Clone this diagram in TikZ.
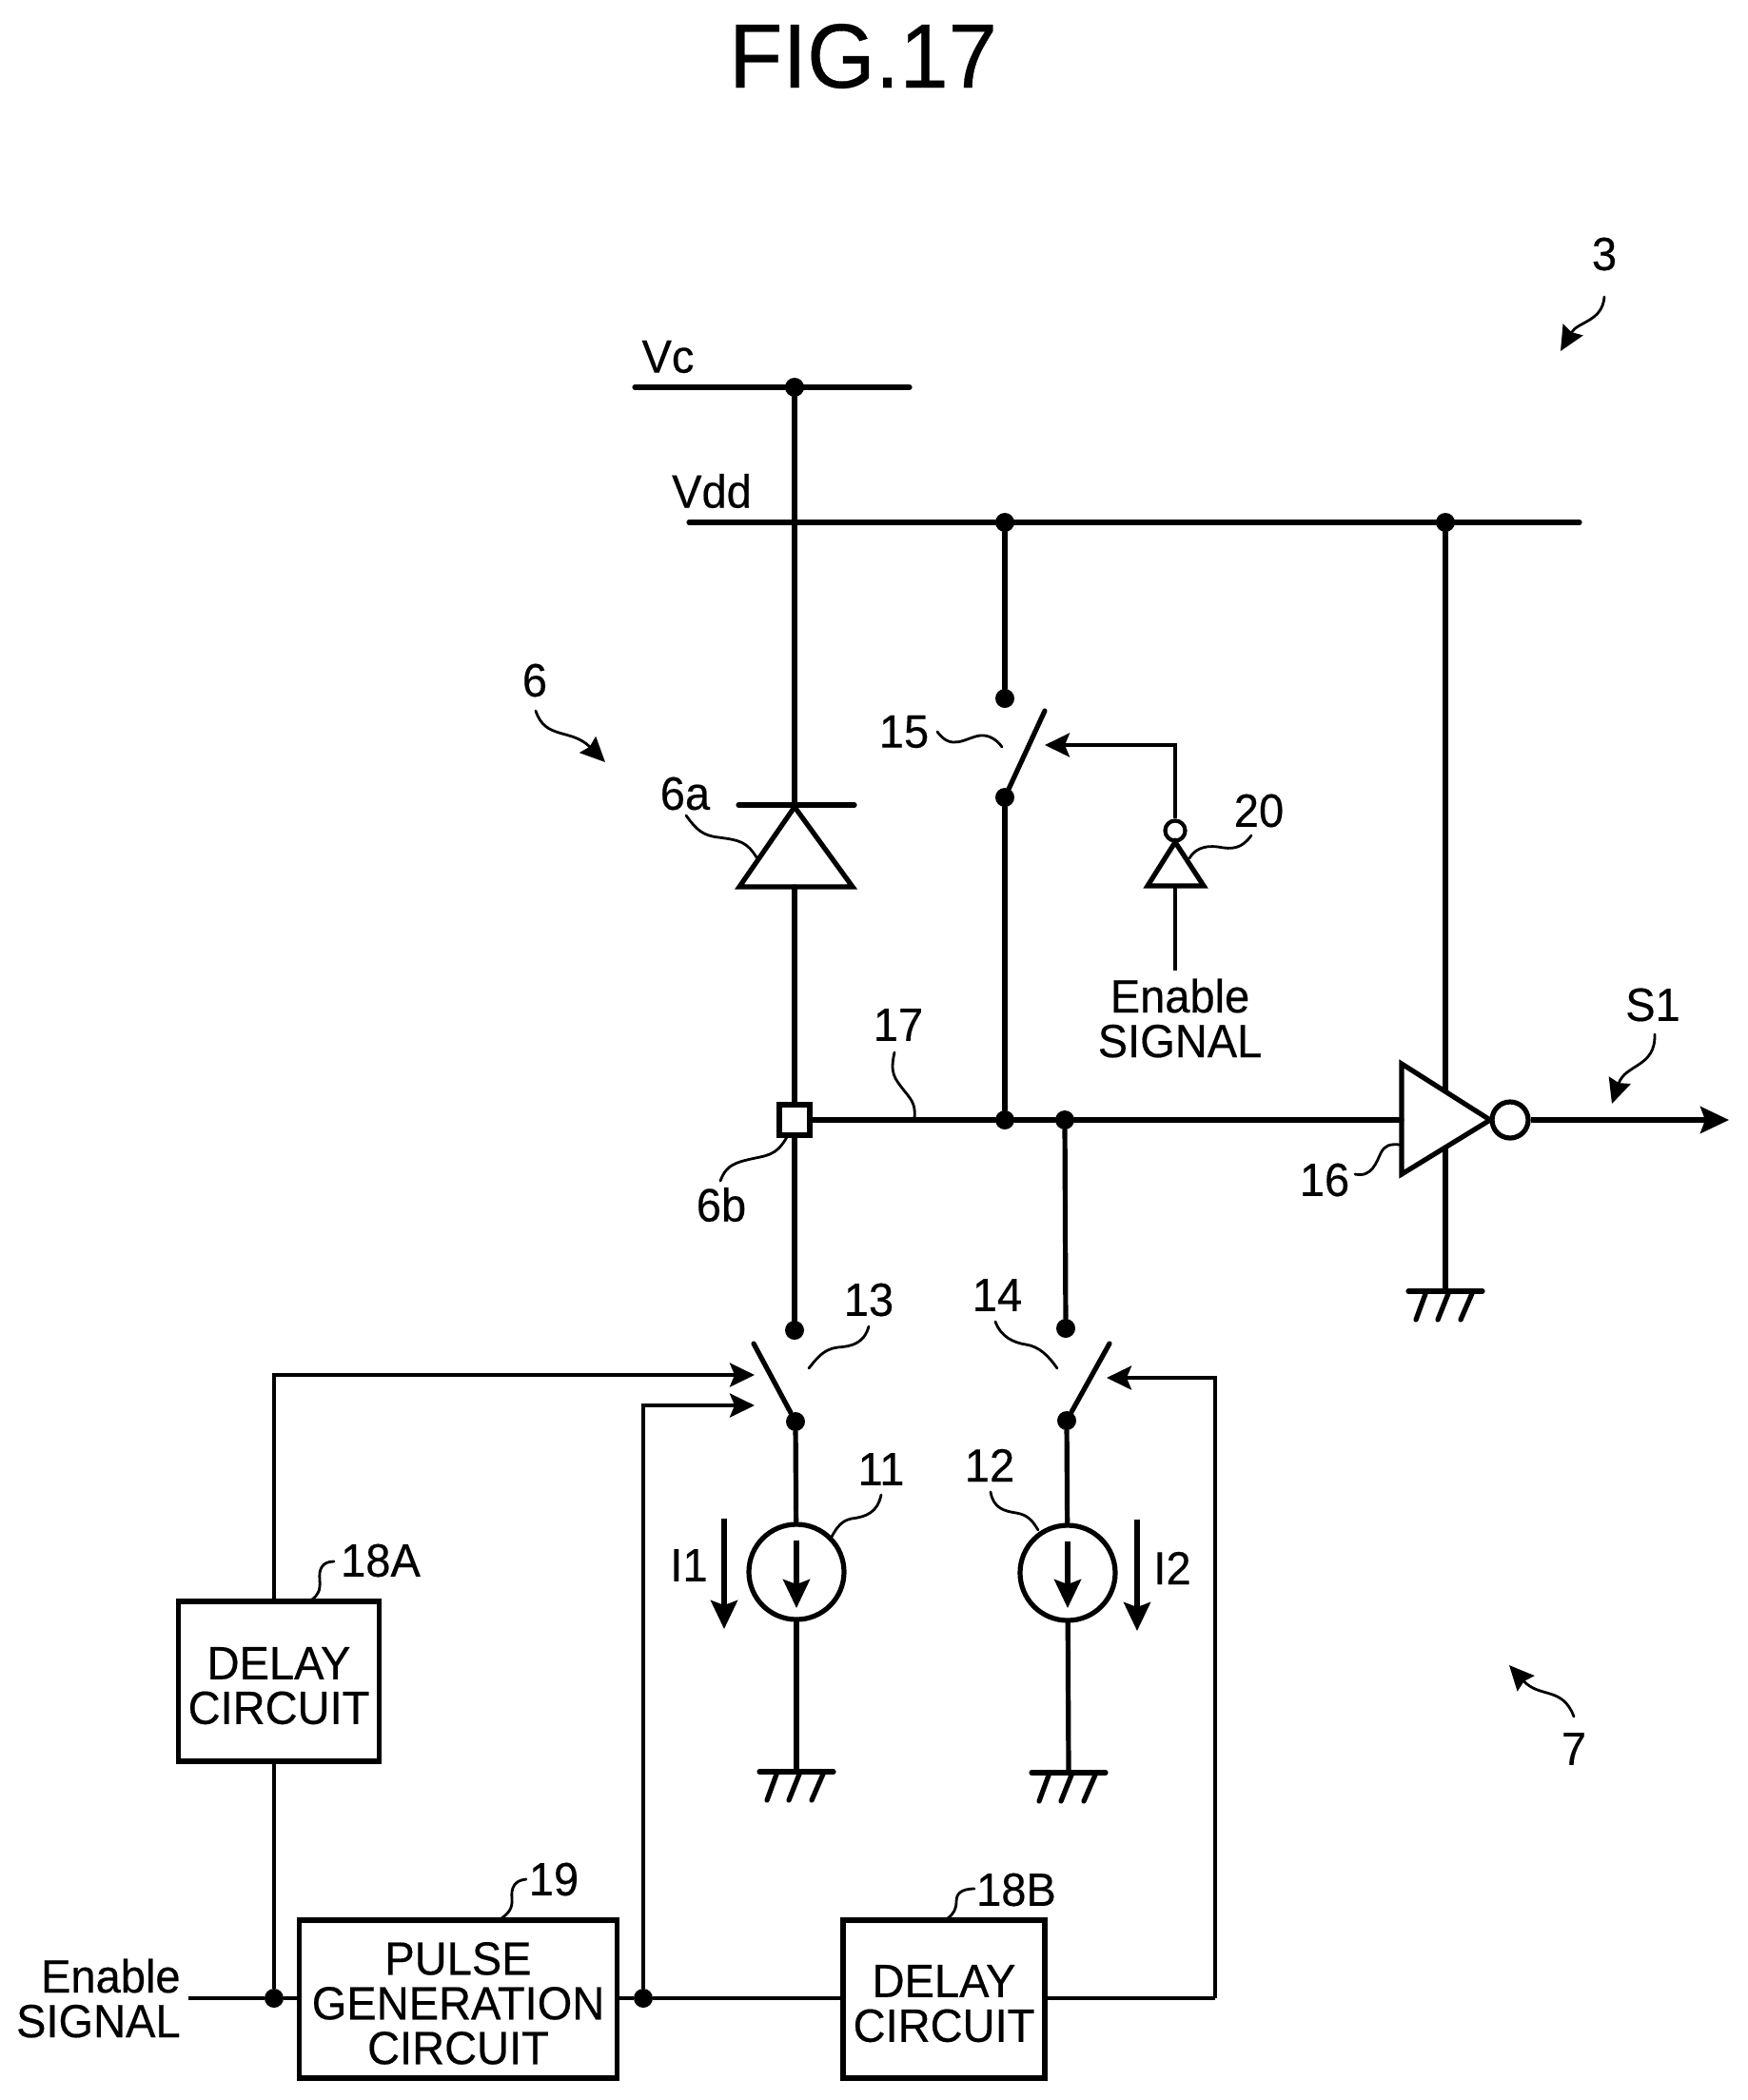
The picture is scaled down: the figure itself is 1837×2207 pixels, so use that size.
\documentclass[tikz,border=0pt]{standalone}
\usepackage{fontspec}
\setmainfont{Liberation Sans}[FakeBold=0.35,FakeStretch=0.96]
\usetikzlibrary{arrows.meta}
\newcommand{\capstrut}{\rule{0pt}{21.5pt}}
\tikzset{
  x=0.5pt,y=-0.5pt,
  wire/.style={line width=2.6pt,line cap=round,line join=round},
  thinwire/.style={line width=2.1pt,line join=miter},
  leader/.style={line width=1.4pt,line cap=round},
  head/.style={-{Stealth[length=13pt,width=12.5pt,inset=2.5pt]}},
  bighead/.style={-{Stealth[length=15pt,width=14pt,inset=2.5pt]}},
  pointer/.style={leader,-{Stealth[length=13pt,width=12pt,inset=1.5pt]}},
  dotn/.style={circle,fill=black,inner sep=0pt,minimum size=10pt},
  lab/.style={inner sep=0pt,font=\fontsize{24.5}{23.5}\selectfont,align=center},
  boxn/.style={draw,line width=2.6pt,inner sep=0pt,font=\fontsize{24.5}{23.5}\selectfont,align=center},
  gndsym/.pic={
    \draw[wire] (-39,0) -- (39,0);
    \draw[wire] (-20,0) -- (-31,30) (4,0) -- (-8,30) (29,0) -- (16,30);
  }
}
\begin{document}
\begin{tikzpicture}
\useasboundingbox (0,0) rectangle (1837,2207);
\node[inner sep=0pt,font=\fontsize{48}{48}\selectfont] (title) at (907,59) {FIG.17};

% rails
\coordinate (vcl) at (667,407); \coordinate (vcr) at (956,407);
\coordinate (vdl) at (724,549); \coordinate (vdr) at (1660,549);
\draw[wire] (vcl) -- (vcr);
\draw[wire] (vdl) -- (vdr);
\node[lab] (vc) at (702,375) {Vc};
\node[lab] (vdd) at (748,516) {Vdd};
\node[dotn] (dvc) at (835,407) {};
\node[dotn] (dvd1) at (1056,549) {};
\node[dotn] (dvd2) at (1519,549) {};

% diode
\coordinate (bl) at (776,846); \coordinate (br) at (898,846);
\coordinate (dapex) at (835,848); \coordinate (dbase) at (835,932);
\draw[wire] (bl) -- (br);
\draw[wire,line join=miter] (dapex) -- (777,932) -- (896,932) -- cycle;
\draw[wire] (dvc) -- (dapex);
\node[draw,line width=2.6pt,fill=white,minimum size=16pt,inner sep=0pt] (pad) at (835,1177) {};
\draw[wire] (dbase) -- (pad);

% main node line
\node[dotn] (j1) at (1056,1177) {};
\node[dotn] (j2) at (1119,1177) {};
\coordinate (invin) at (1473,1177);
\draw[wire] (pad) -- (j1) -- (j2) -- (invin);

% switch 15
\node[dotn] (s15t) at (1056,734) {};
\node[dotn] (s15b) at (1056,838) {};
\coordinate (s15a) at (1098,747);
\draw[wire] (dvd1) -- (s15t);
\draw[wire] (s15b) -- (s15a);
\draw[wire] (s15b) -- (j1);

% inverter 20
\node[circle,draw,line width=2.1pt,inner sep=0pt,minimum size=10.5pt] (bub20) at (1235,873) {};
\coordinate (i20a) at (1235,885); \coordinate (i20b) at (1235,931); \coordinate (en20) at (1235,1020);
\coordinate (t15) at (1098,783);
\draw[wire,line join=miter] (i20a) -- (1206,931) -- (1265,931) -- cycle;
\draw[thinwire,head] (bub20) |- (t15);
\draw[thinwire] (i20b) -- (en20);
\node[lab] (en2) at (1240,1070) {Enable\\SIGNAL};

% inverter 16
\coordinate (i16t) at (1473,1118); \coordinate (i16b) at (1473,1234); \coordinate (i16a) at (1566,1177);
\draw[wire,line join=miter] (i16t) -- (i16a) -- (i16b) -- cycle;
\node[circle,draw,line width=2.6pt,inner sep=0pt,minimum size=19pt] (bub16) at (1587,1177) {};
\coordinate (out) at (1817,1177);
\draw[wire,line cap=butt,bighead] (bub16) -- (out);
\coordinate (i16vt) at (1519,1146); \coordinate (i16vb) at (1519,1206);
\draw[wire] (dvd2) -- (i16vt);
\coordinate (g3) at (1519,1357);
\draw[wire] (i16vb) -- (g3);
\pic at (g3) {gndsym};

% switch 13, source 11
\node[dotn] (s13t) at (835,1398) {};
\node[dotn] (s13b) at (836,1494) {};
\coordinate (s13a) at (792,1412);
\draw[wire] (pad) -- (s13t);
\draw[wire] (s13b) -- (s13a);
\node[circle,draw,line width=2.6pt,inner sep=0pt,minimum size=50pt] (cs1) at (837,1652) {};
\draw[wire] (s13b) -- (cs1);
\coordinate (g1) at (837,1862);
\draw[wire] (cs1) -- (g1);
\pic at (g1) {gndsym};
\coordinate (cs1a) at (837,1619); \coordinate (cs1b) at (837,1690);
\draw[wire,line cap=butt,bighead] (cs1a) -- (cs1b);

% switch 14, source 12
\node[dotn] (s14t) at (1120,1396) {};
\node[dotn] (s14b) at (1121,1493) {};
\coordinate (s14a) at (1166,1412);
\draw[wire] (j2) -- (s14t);
\draw[wire] (s14b) -- (s14a);
\node[circle,draw,line width=2.6pt,inner sep=0pt,minimum size=50pt] (cs2) at (1122,1653) {};
\draw[wire] (s14b) -- (cs2);
\coordinate (g2) at (1123,1863);
\draw[wire] (cs2) -- (g2);
\pic at (g2) {gndsym};
\coordinate (cs2a) at (1122,1620); \coordinate (cs2b) at (1122,1690);
\draw[wire,line cap=butt,bighead] (cs2a) -- (cs2b);

% current arrows
\coordinate (i1a) at (761,1596); \coordinate (i1b) at (761,1712);
\coordinate (i2a) at (1195,1597); \coordinate (i2b) at (1195,1714);
\draw[wire,line cap=butt,bighead] (i1a) -- (i1b);
\draw[wire,line cap=butt,bighead] (i2a) -- (i2b);
\node[lab] (li1) at (724,1645) {I1};
\node[lab] (li2) at (1232,1648) {I2};

% boxes
\node[boxn,minimum width=105.5pt,minimum height=84pt] (dA) at (293,1767) {\capstrut DELAY\\CIRCUIT};
\node[boxn,minimum width=167pt,minimum height=83pt] (pg) at (481.5,2101) {\capstrut PULSE\\GENERATION\\CIRCUIT};
\node[boxn,minimum width=106pt,minimum height=83pt] (dB) at (992,2101) {\capstrut DELAY\\CIRCUIT};

% control wiring
\coordinate (en1) at (198,2100);
\node[lab,align=right,anchor=east] (en1l) at (190,2100) {Enable\\SIGNAL};
\node[dotn] (d1) at (288,2100) {};
\node[dotn] (d2) at (676,2100) {};
\draw[thinwire] (en1) -- (d1) -- (pg.west |- d1);
\draw[thinwire] (pg.east |- d2) -- (d2) -- (dB.west |- d2);
\draw[thinwire] (d1) -- (d1 |- dA.south);
\coordinate (t13a) at (793,1445); \coordinate (t13b) at (793,1477); \coordinate (t14) at (1163,1448);
\draw[thinwire,head] (d1 |- dA.north) |- (t13a);
\draw[thinwire,head] (d2) |- (t13b);
\coordinate (r14) at (1277,2100);
\draw[thinwire] (dB.east |- r14) -- (r14);
\draw[thinwire,head] (r14) |- (t14);

% reference labels
\node[lab] (l3) at (1686,267) {3};
\node[lab] (l6) at (562,715) {6};
\node[lab] (l6a) at (720,834) {6a};
\node[lab] (l6b) at (758,1266) {6b};
\node[lab] (l7) at (1654,1838) {7};
\node[lab] (l11) at (926,1544) {11};
\node[lab] (l12) at (1040,1540) {12};
\node[lab] (l13) at (913,1366) {13};
\node[lab] (l14) at (1048,1361) {14};
\node[lab] (l15) at (950,769) {15};
\node[lab] (l16) at (1392,1240) {16};
\node[lab] (l17) at (944,1077) {17};
\node[lab] (l18a) at (400,1640) {18A};
\node[lab] (l18b) at (1068,1986) {18B};
\node[lab] (l19) at (582,1975) {19};
\node[lab] (l20) at (1323,852) {20};
\node[lab] (ls1) at (1737,1056) {S1};

% leader curves
\draw[leader] (985,769) .. controls (1000,790) and (1015,775) .. (1030,773) .. controls (1040,772) and (1048,778) .. (1053,785);
\draw[leader] (721,857) .. controls (732,872) and (738,878) .. (755,880) .. controls (778,883) and (785,885) .. (795,901);
\draw[leader] (1315,878) .. controls (1305,892) and (1295,893) .. (1280,890) .. controls (1265,888) and (1255,893) .. (1250,902);
\draw[leader] (940,1106) .. controls (935,1128) and (940,1133) .. (950,1146) .. controls (960,1158) and (962,1162) .. (961,1176);
\draw[leader] (827,1195) .. controls (815,1216) and (805,1214) .. (785,1219) .. controls (768,1223) and (762,1228) .. (757,1241);
\draw[leader] (913,1394) .. controls (908,1412) and (895,1415) .. (880,1416) .. controls (865,1418) and (858,1428) .. (850,1438);
\draw[leader] (926,1571) .. controls (922,1590) and (910,1594) .. (895,1596) .. controls (885,1598) and (880,1604) .. (874,1615);
\draw[leader] (1046,1389) .. controls (1052,1405) and (1065,1411) .. (1078,1413) .. controls (1092,1415) and (1102,1425) .. (1111,1438);
\draw[leader] (1041,1568) .. controls (1044,1585) and (1055,1588) .. (1068,1590) .. controls (1080,1592) and (1085,1598) .. (1091,1608);
\draw[leader] (1424,1234) .. controls (1442,1238) and (1447,1220) .. (1451,1212) .. controls (1455,1204) and (1460,1202) .. (1471,1203);
\draw[leader] (351,1641) .. controls (338,1641) and (335,1650) .. (336,1660) .. controls (337,1672) and (334,1676) .. (328,1681);
\draw[leader] (553,1975) .. controls (540,1976) and (537,1985) .. (538,1995) .. controls (539,2006) and (534,2011) .. (527,2016);
\draw[leader] (1024,1985) .. controls (1008,1985) and (1005,1992) .. (1005,1998) .. controls (1005,2007) and (1002,2011) .. (996,2016);

% pointer arrows
\coordinate (p3a) at (1686,312); \coordinate (p3b) at (1640,369);
\draw[pointer] (p3a) .. controls (1684,338) and (1658,338) .. (p3b);
\coordinate (p6a) at (563,747); \coordinate (p6b) at (636,801);
\draw[pointer] (p6a) .. controls (573,778) and (600,765) .. (p6b);
\coordinate (p7a) at (1654,1804); \coordinate (p7b) at (1586,1750);
\draw[pointer] (p7a) .. controls (1642,1772) and (1618,1785) .. (p7b);
\coordinate (psa) at (1739,1087); \coordinate (psb) at (1694,1160);
\draw[pointer] (psa) .. controls (1740,1122) and (1708,1118) .. (psb);
\end{tikzpicture}
\end{document}
